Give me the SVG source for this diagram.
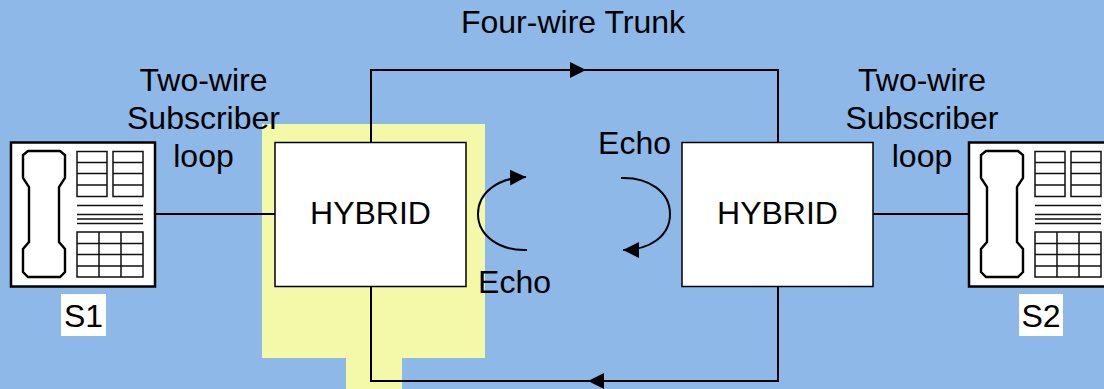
<svg xmlns="http://www.w3.org/2000/svg" width="1104" height="389" viewBox="0 0 1104 389">
<style>
text{font-family:"Liberation Sans",Arial,sans-serif;font-size:32px;fill:#000}
.c{text-anchor:middle}
.box{fill:#fff;stroke:#000;stroke-width:1.5}
.ph{fill:#fff;stroke:#000;stroke-width:2.5}
.hs{fill:#fff;stroke:#000;stroke-width:2.4}
.k{fill:none;stroke:#111;stroke-width:1.5}
.w{fill:none;stroke:#000;stroke-width:2}
</style>
<defs>
<marker id="a" markerUnits="userSpaceOnUse" markerWidth="18" markerHeight="18" refX="16" refY="8" orient="auto"><path d="M0 0L16 8L0 16z" fill="#000"/></marker>
<g id="phone">
<rect class="ph" x="11" y="142.5" width="144" height="144"/>
<path class="hs" d="M28 151H60L65 155V178L59 187V242L65 249V272L60 277H28L23 272V249L29 242V187L23 178V155z"/>
<path class="k" d="M77 151.500H107V196.500H77zM77 162.500H107M77 173.500H107M77 185H107M113 151.500H143V196.500H113zM113 162.500H143M113 173.500H143M113 185H143M77 205.500H143M77 214.500H143M77 219H143M77 223.500H143M77 232H143V277H77zM77 243.500H143M77 254.500H143M77 266H143M99 232V277M121 232V277"/>
</g>
</defs>
<rect width="1104" height="389" fill="#8DB8E8"/>
<path d="M262 124H485V358H402V389H346V358H262z" fill="#F3F9A8"/>
<g id="connectors">
<path class="w" d="M155 214H275M873 214H969"/>
<path class="w" d="M371 142V70H778V142"/>
<path class="w" d="M371 70H586" marker-end="url(#a)"/>
<path class="w" d="M371 286V381H778V286"/>
<path class="w" d="M778 381H588" marker-end="url(#a)"/>
<path class="w" d="M527 250C500 251 478 236 478 214C478 193 497 178 526 177" marker-end="url(#a)"/>
<path class="w" d="M621 178C649 177 670 192 670 214C670 236 650 250 623 250" marker-end="url(#a)"/>
</g>
<g id="hybrid-left"><rect class="box" x="275" y="142.500" width="191" height="144"/><text class="c" x="370.500" y="224">HYBRID</text></g>
<g id="hybrid-right"><rect class="box" x="682" y="142.500" width="191" height="144"/><text class="c" x="777.500" y="224">HYBRID</text></g>
<g id="s1"><use href="#phone"/><rect x="61" y="294" width="45" height="42" fill="#fff"/><text class="c" x="83.500" y="327">S1</text></g>
<g id="s2"><use href="#phone" x="958"/><rect x="1019" y="294" width="44" height="42" fill="#fff"/><text class="c" x="1041" y="327">S2</text></g>
<g id="labels">
<text class="c" x="573" y="33">Four-wire Trunk</text>
<text class="c" x="203.500" y="91">Two-wire</text>
<text class="c" x="203.500" y="129">Subscriber</text>
<text class="c" x="203.500" y="167">loop</text>
<text class="c" x="922" y="91">Two-wire</text>
<text class="c" x="922" y="129">Subscriber</text>
<text class="c" x="922" y="167">loop</text>
<text class="c" x="634.500" y="154">Echo</text>
<text class="c" x="514.500" y="293">Echo</text>
</g>
</svg>
